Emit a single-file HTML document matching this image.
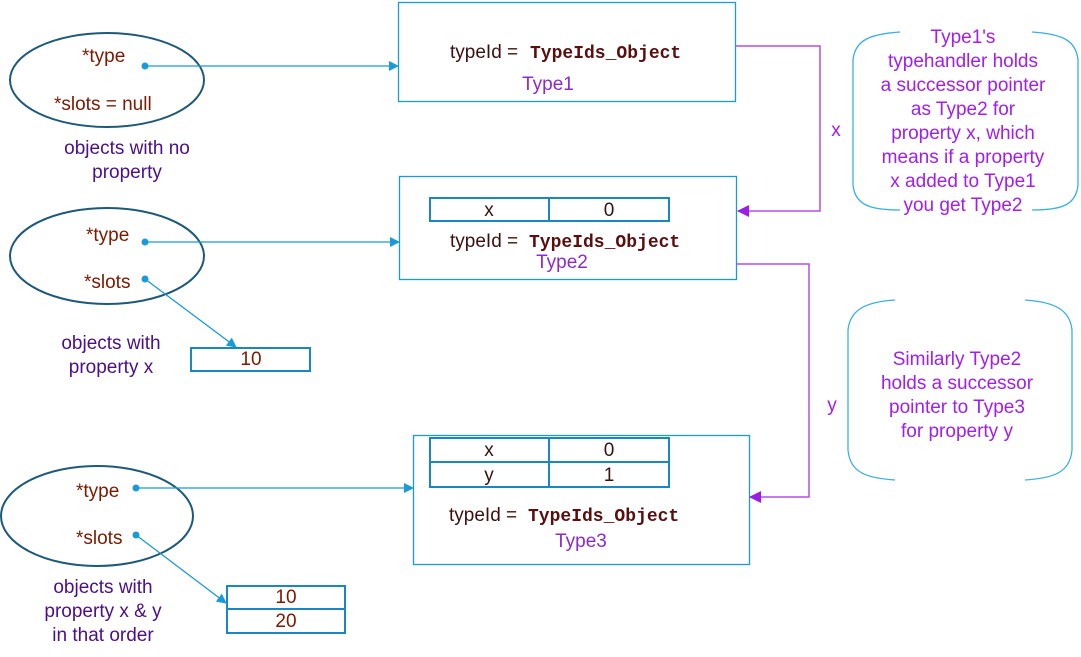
<!DOCTYPE html>
<html><head><meta charset="utf-8"><style>
html,body{margin:0;padding:0;background:#fff;}
svg{display:block;}
text{font-family:"Liberation Sans",sans-serif;font-size:19px;}
.r{fill:#7a1a00;}
.p{fill:#4b0f86;}
.n{fill:#a01ef0;}
.m{font-family:"Liberation Mono",monospace;font-weight:bold;fill:#5a0f0f;font-size:18px;}
.k{fill:#3a1010;}
.t{fill:#8a2bd0;}
</style></head><body>
<svg width="1081" height="657" viewBox="0 0 1081 657" xmlns="http://www.w3.org/2000/svg">
<defs>
<marker id="ab" markerWidth="10" markerHeight="10" refX="9" refY="5" orient="auto" markerUnits="userSpaceOnUse"><path d="M0,0 L10,5 L0,10 z" fill="#1a9ad6"/></marker>
<marker id="ap" markerWidth="12" markerHeight="12" refX="11" refY="6" orient="auto" markerUnits="userSpaceOnUse"><path d="M0,0 L12,6 L0,12 z" fill="#9a1ee6"/></marker>
</defs>
<g fill="none" stroke="#1d5a78" stroke-width="2">
<ellipse cx="107" cy="80" rx="97" ry="47"/>
<ellipse cx="107" cy="256" rx="97" ry="48"/>
<ellipse cx="97" cy="516" rx="96" ry="50"/>
</g>
<text class="r" x="82" y="62">*type</text>
<text class="r" x="54" y="110">*slots = null</text>
<text class="p" x="127" y="154" text-anchor="middle">objects with no</text>
<text class="p" x="127" y="178" text-anchor="middle">property</text>
<text class="r" x="86" y="241">*type</text>
<text class="r" x="84" y="288">*slots</text>
<text class="p" x="111" y="349" text-anchor="middle">objects with</text>
<text class="p" x="111" y="373" text-anchor="middle">property x</text>
<text class="r" x="76" y="497">*type</text>
<text class="r" x="76" y="544">*slots</text>
<text class="p" x="103" y="593" text-anchor="middle">objects with</text>
<text class="p" x="103" y="617" text-anchor="middle">property x &amp; y</text>
<text class="p" x="103" y="641" text-anchor="middle">in that order</text>
<g fill="none" stroke="#1a9ad6" stroke-width="1.3">
<rect x="398.5" y="2.5" width="337" height="99"/>
<rect x="399.5" y="176.5" width="337" height="103"/>
<rect x="413.5" y="435.5" width="336" height="129"/>
</g>
<g fill="none" stroke="#1a86c6" stroke-width="2">
<rect x="430" y="198" width="239" height="23"/><line x1="549" y1="198" x2="549" y2="221"/>
<rect x="430" y="438" width="239" height="49"/><line x1="430" y1="462" x2="669" y2="462"/><line x1="549" y1="438" x2="549" y2="487"/>
<rect x="191" y="348" width="119" height="23"/>
<rect x="227" y="586" width="118" height="47"/><line x1="227" y1="609" x2="345" y2="609"/>
</g>
<text class="k" x="450" y="58">typeId = </text><text class="m" x="530" y="58">TypeIds_Object</text>
<text class="t" x="548" y="90" text-anchor="middle">Type1</text>
<text class="k" x="489" y="216" text-anchor="middle">x</text><text class="k" x="609" y="216" text-anchor="middle">0</text>
<text class="k" x="450" y="247">typeId = </text><text class="m" x="529" y="247">TypeIds_Object</text>
<text class="t" x="562" y="268" text-anchor="middle">Type2</text>
<text class="k" x="489" y="456" text-anchor="middle">x</text><text class="k" x="609" y="456" text-anchor="middle">0</text>
<text class="k" x="489" y="481" text-anchor="middle">y</text><text class="k" x="609" y="481" text-anchor="middle">1</text>
<text class="k" x="449" y="521">typeId = </text><text class="m" x="528" y="521">TypeIds_Object</text>
<text class="t" x="581" y="547" text-anchor="middle">Type3</text>
<text class="r" x="251" y="365" text-anchor="middle">10</text>
<text class="r" x="286" y="603" text-anchor="middle">10</text>
<text class="r" x="286" y="627" text-anchor="middle">20</text>
<g fill="#1a9ad6"><circle cx="145" cy="66" r="3.5"/><circle cx="145" cy="242" r="3.5"/><circle cx="145" cy="279" r="3.5"/><circle cx="136" cy="488" r="3.5"/><circle cx="136" cy="535" r="3.5"/></g>
<g stroke="#1a9ad6" stroke-width="1.3" fill="none" marker-end="url(#ab)">
<line x1="145" y1="66" x2="398" y2="66"/>
<line x1="145" y1="242" x2="399" y2="242"/>
<line x1="145" y1="279" x2="236" y2="347"/>
<line x1="136" y1="488" x2="413" y2="488"/>
<line x1="136" y1="535" x2="226" y2="603"/>
</g>
<g stroke="#b44ee6" stroke-width="1.5" fill="none" marker-end="url(#ap)">
<polyline points="736,46 820,46 820,211 738,211"/>
<polyline points="737,264 809,264 809,497 750,497"/>
</g>
<text class="n" x="836" y="136" text-anchor="middle">x</text>
<text class="n" x="832" y="411" text-anchor="middle">y</text>
<g stroke="#3ab0e0" stroke-width="1.3" fill="none">
<path d="M900,32 C870,34 855,40 853,60 L853,185 C855,205 870,210 900,210"/>
<path d="M1032,32 C1062,34 1076,40 1078,60 L1078,185 C1076,205 1062,210 1032,210"/>
<path d="M895,300 C865,302 850,310 848,330 L848,450 C850,472 865,478 895,480"/>
<path d="M1025,300 C1055,302 1070,310 1072,330 L1072,450 C1070,472 1055,478 1025,480"/>
</g>
<g class="n" text-anchor="middle">
<text x="963" y="43">Type1's</text>
<text x="963" y="67">typehandler holds</text>
<text x="963" y="91">a successor pointer</text>
<text x="963" y="115">as Type2 for</text>
<text x="963" y="139">property x, which</text>
<text x="963" y="163">means if a property</text>
<text x="963" y="187">x added to Type1</text>
<text x="963" y="211">you get Type2</text>
<text x="957" y="365">Similarly Type2</text>
<text x="957" y="389">holds a successor</text>
<text x="957" y="413">pointer to Type3</text>
<text x="957" y="437">for property y</text>
</g>
</svg>
</body></html>
